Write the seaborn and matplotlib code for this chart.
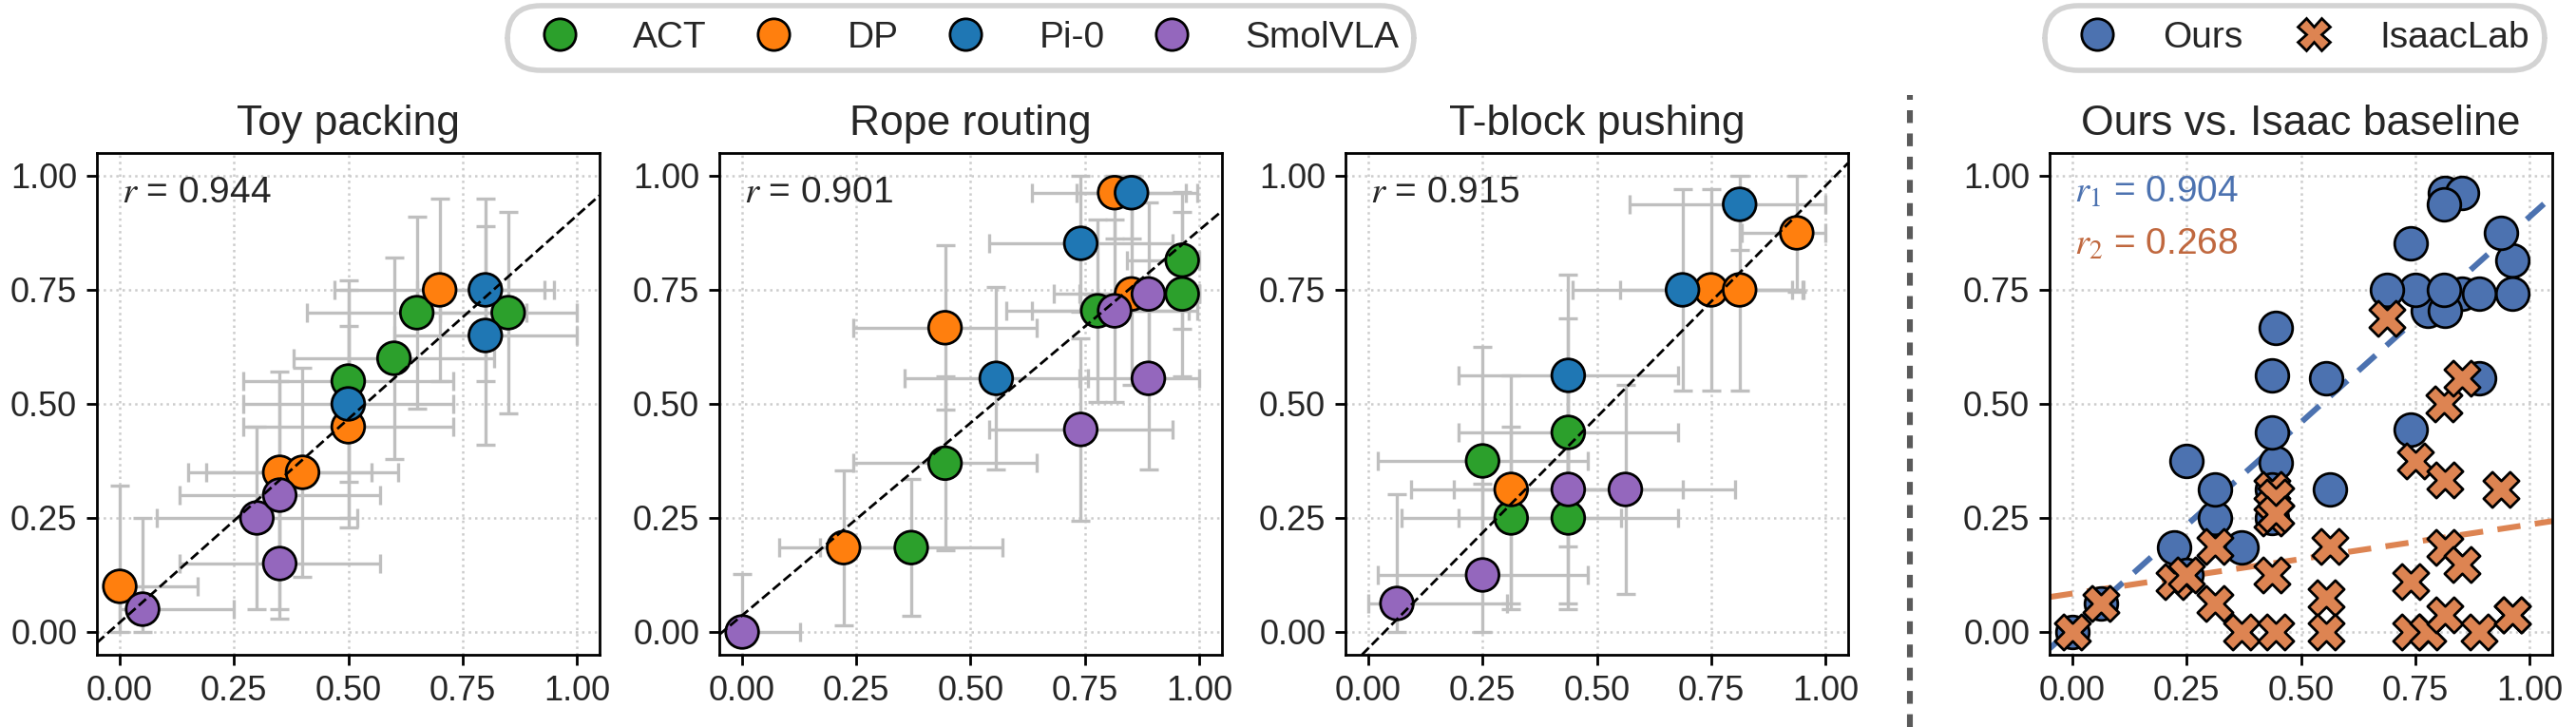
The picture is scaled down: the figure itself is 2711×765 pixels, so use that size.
import numpy as np
import pandas as pd
import matplotlib
matplotlib.use("Agg")
import matplotlib.pyplot as plt
import seaborn as sns
from matplotlib.lines import Line2D

# ---- data (real-world success rate x, simulated success rate y) ----
policies = ["ACT", "DP", "Pi-0", "SmolVLA"]
policy_colors = ["#2ca02c", "#ff7f0e", "#1f77b4", "#9467bd"]

toy_policy = ["ACT"] * 4 + ["DP"] * 5 + ["Pi-0"] * 3 + ["SmolVLA"] * 4
toy_real = [0.50, 0.60, 0.65, 0.85, 0.00, 0.35, 0.40, 0.50, 0.70, 0.50, 0.80, 0.80, 0.05, 0.30, 0.35, 0.35]
toy_sim = [0.55, 0.60, 0.70, 0.70, 0.10, 0.35, 0.35, 0.45, 0.75, 0.50, 0.75, 0.65, 0.05, 0.25, 0.30, 0.15]
toy_xerr = [0.23, 0.22, 0.24, 0.15, 0.17, 0.20, 0.21, 0.23, 0.23, 0.23, 0.15, 0.20, 0.20, 0.22, 0.22, 0.22]
toy_yerr = [0.22, 0.22, 0.21, 0.22, 0.22, 0.22, 0.23, 0.22, 0.20, 0.25, 0.20, 0.24, 0.20, 0.20, 0.25, 0.12]

rope_policy = ["ACT"] * 5 + ["DP"] * 4 + ["Pi-0"] * 3 + ["SmolVLA"] * 5
rope_real = [0.370, 0.444, 0.778, 0.963, 0.963, 0.222, 0.444, 0.815, 0.852,
             0.556, 0.741, 0.852, 0.000, 0.741, 0.815, 0.889, 0.889]
rope_sim = [0.185, 0.370, 0.704, 0.815, 0.741, 0.185, 0.667, 0.963, 0.741,
            0.556, 0.852, 0.963, 0.000, 0.444, 0.704, 0.741, 0.556]
rope_xerr = [0.20, 0.20, 0.20, 0.12, 0.12, 0.14, 0.20, 0.18, 0.17,
             0.20, 0.20, 0.12, 0.127, 0.20, 0.18, 0.15, 0.15]
rope_yerr = [0.15, 0.19, 0.20, 0.15, 0.18, 0.17, 0.18, 0.10, 0.20,
             0.20, 0.15, 0.10, 0.127, 0.20, 0.20, 0.20, 0.20]

tblock_policy = ["ACT"] * 4 + ["DP"] * 4 + ["Pi-0"] * 3 + ["SmolVLA"] * 4
tblock_real = [0.25, 0.3125, 0.4375, 0.4375, 0.3125, 0.75, 0.8125, 0.9375,
               0.4375, 0.6875, 0.8125, 0.0625, 0.25, 0.4375, 0.5625]
tblock_sim = [0.375, 0.25, 0.4375, 0.25, 0.3125, 0.75, 0.75, 0.875,
              0.5625, 0.75, 0.9375, 0.0625, 0.125, 0.3125, 0.3125]
tblock_xerr = [0.23, 0.24, 0.24, 0.24, 0.22, 0.20, 0.14, 0.12,
               0.24, 0.24, 0.24, 0.24, 0.23, 0.25, 0.24]
tblock_yerr = [0.25, 0.20, 0.25, 0.20, 0.25, 0.22, 0.22, 0.13,
               0.22, 0.22, 0.10, 0.24, 0.20, 0.25, 0.23]

# IsaacLab baseline (real x, IsaacLab sim y)
isaac_real = [0.0, 0.0625, 0.222, 0.25, 0.3125, 0.3125, 0.370, 0.4375, 0.444, 0.4375,
              0.444, 0.4375, 0.444, 0.5625, 0.556, 0.556, 0.6875, 0.75, 0.741, 0.741,
              0.778, 0.8125, 0.815, 0.815, 0.815, 0.852, 0.852, 0.889, 0.9375, 0.963, 0.963]
isaac_sim = [0.0, 0.0625, 0.111, 0.125, 0.1875, 0.0625, 0.0, 0.3125, 0.296, 0.25,
             0.259, 0.125, 0.0, 0.1875, 0.074, 0.0, 0.6875, 0.375, 0.111, 0.0,
             0.0, 0.50, 0.333, 0.185, 0.037, 0.556, 0.148, 0.0, 0.3125, 0.037, 0.037]

titles = ["Toy packing", "Rope routing", "T-block pushing", "Ours vs. Isaac baseline"]
r_labels = ["0.944", "0.901", "0.915"]
r_ours, r_isaac = "0.904", "0.268"

OURS_C = "#4c72b0"
ISAAC_C = "#dd8452"
ISAAC_TXT = "#c0683f"
ERR_C = "#bfbfbf"
TICKS = [0, 0.25, 0.5, 0.75, 1.0]

sns.set_theme(style="ticks")
plt.rcParams["font.family"] = ["Liberation Sans", "DejaVu Sans"]
plt.rcParams["mathtext.fontset"] = "stix"

W, H = 2711, 765
fig = plt.figure(figsize=(W / 200, H / 200), dpi=200)
lefts = [102, 757, 1416, 2157]
axes = [fig.add_axes([l / W, 1 - 689 / H, 529 / W, 528 / H]) for l in lefts]


def style_ax(ax, title):
    ax.set_xlim(-0.05, 1.05)
    ax.set_ylim(-0.05, 1.05)
    ax.set_xticks(TICKS)
    ax.set_yticks(TICKS)
    ax.set_xlabel("")
    ax.set_ylabel("")
    ax.grid(True, linestyle=":", color="#cccccc", linewidth=0.9)
    ax.set_axisbelow(True)
    ax.tick_params(labelsize=13, length=4, width=1, color="black")
    for sp in ax.spines.values():
        sp.set_color("black")
        sp.set_linewidth(1.0)
    ax.set_title(title, fontsize=16, pad=7)


def clipped(v, e):
    v = np.asarray(v)
    e = np.asarray(e)
    lo = v - np.clip(v - e, 0, 1)
    hi = np.clip(v + e, 0, 1) - v
    return np.vstack([lo, hi])


tasks = [
    (toy_policy, toy_real, toy_sim, toy_xerr, toy_yerr),
    (rope_policy, rope_real, rope_sim, rope_xerr, rope_yerr),
    (tblock_policy, tblock_real, tblock_sim, tblock_xerr, tblock_yerr),
]

for i, (pol, xr, ys, xe, ye) in enumerate(tasks):
    ax = axes[i]
    df = pd.DataFrame({"policy": pol, "real": xr, "sim": ys})
    ax.errorbar(df["real"], df["sim"], xerr=clipped(xr, xe), yerr=clipped(ys, ye),
                fmt="none", ecolor=ERR_C, elinewidth=1.2, capsize=3.5, capthick=1.2, zorder=1)
    sns.scatterplot(data=df, x="real", y="sim", hue="policy", hue_order=policies,
                    palette=policy_colors, s=155, edgecolor="black", linewidth=1.0,
                    legend=False, ax=ax, zorder=3)
    m, b = np.polyfit(df["real"], df["sim"], 1)
    ax.axline((0, b), slope=m, color="black", linestyle="--", linewidth=1.0, zorder=4)
    ax.text(0.05, 0.955, r"$r$ = " + r_labels[i], transform=ax.transAxes,
            ha="left", va="top", fontsize=14)
    style_ax(ax, titles[i])

# ---- comparison panel ----
ax = axes[3]
ours_x = np.array(rope_real + tblock_real)
ours_y = np.array(rope_sim + tblock_sim)

m1, b1 = np.polyfit(ours_x, ours_y, 1)
m2, b2 = np.polyfit(isaac_real, isaac_sim, 1)
ax.axline((0, b1), slope=m1, color=OURS_C, linestyle=(0, (4, 2.5)), linewidth=2.2, zorder=2)
ax.axline((0, b2), slope=m2, color=ISAAC_C, linestyle=(0, (4, 2.5)), linewidth=2.2, zorder=2)
sns.scatterplot(x=ours_x, y=ours_y, color=OURS_C, s=155, edgecolor="black",
                linewidth=1.0, ax=ax, zorder=3)
sns.scatterplot(x=isaac_real, y=isaac_sim, color=ISAAC_C, marker="X", s=180,
                edgecolor="black", linewidth=1.0, ax=ax, zorder=4)
ax.text(0.05, 0.955, r"$r_1$ = " + r_ours, transform=ax.transAxes, ha="left", va="top",
        fontsize=14, color=OURS_C)
ax.text(0.05, 0.85, r"$r_2$ = " + r_isaac, transform=ax.transAxes, ha="left", va="top",
        fontsize=14, color=ISAAC_TXT)
style_ax(ax, titles[3])

# ---- divider ----
fig.add_artist(Line2D([2010 / W, 2010 / W], [0, 1 - 100 / H], transform=fig.transFigure,
                      color="#5a5a5a", linewidth=2.2, linestyle=(0, (2.2, 1.8))))

# ---- legends ----
leg_kw = dict(loc="center", fontsize=14, frameon=True, fancybox=True, edgecolor="#d3d3d3",
              framealpha=1, columnspacing=0.8, handletextpad=1.0, borderpad=0.4)

h1 = [Line2D([], [], marker="o", linestyle="none", markersize=12, markerfacecolor=c,
             markeredgecolor="black", markeredgewidth=1.0) for c in policy_colors]
leg1 = fig.legend(h1, policies, bbox_to_anchor=(1011 / W, 1 - 40 / H), ncol=4, **leg_kw)

h2 = [Line2D([], [], marker="o", linestyle="none", markersize=12, markerfacecolor=OURS_C,
             markeredgecolor="black", markeredgewidth=1.0),
      Line2D([], [], marker="X", linestyle="none", markersize=12, markerfacecolor=ISAAC_C,
             markeredgecolor="black", markeredgewidth=1.0)]
leg2 = fig.legend(h2, ["Ours", "IsaacLab"], bbox_to_anchor=(2415 / W, 1 - 40 / H), ncol=2,
                  **dict(leg_kw, handletextpad=0.8, columnspacing=0.9))

for leg in (leg1, leg2):
    leg.get_frame().set_linewidth(2.0)
    leg.get_frame().set_boxstyle("round,pad=0,rounding_size=0.9")

fig.savefig("out.png", dpi=200)
plt.close("all")
